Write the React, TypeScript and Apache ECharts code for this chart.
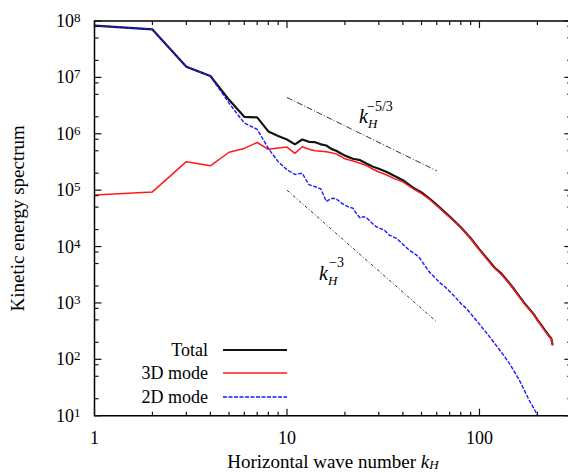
import React, { useEffect, useRef } from 'react';
import * as echarts from 'echarts';

const SERIF = '"Liberation Serif", "DejaVu Serif", serif';

// Wave numbers k_H for total / 3D spectra
const waveNumbers = [
  1, 2, 3, 4, 5, 6, 7, 8, 9, 10, 11, 12, 13, 14, 15, 16, 17, 18, 19, 20,
  22, 24, 26, 28, 30, 33, 36, 40, 45, 50, 55, 60, 70, 80, 90, 100,
  110, 120, 130, 140, 150, 160, 170, 180, 190, 200, 210, 220, 230, 236, 240,
];
const totalSpectrum = [
  8.3e7, 7.1e7, 1.55e7, 1.06e7, 4.0e6, 2.0e6, 1.95e6, 1.1e6, 9.1e5, 7.9e5,
  6.5e5, 7.9e5, 7.2e5, 7.1e5, 6.5e5, 6.2e5, 5.4e5, 5.0e5, 4.5e5, 4.1e5,
  3.6e5, 3.4e5, 2.95e5, 2.6e5, 2.4e5, 2.1e5, 1.8e5, 1.5e5, 1.12e5, 9.1e4,
  7.1e4, 5.5e4, 3.4e4, 2.2e4, 1.4e4, 8.9e3,
  6.0e3, 4.2e3, 3.3e3, 2.45e3, 1.82e3, 1.35e3, 1.02e3, 8.1e2, 6.5e2, 5.0e2,
  4.0e2, 3.2e2, 2.6e2, 2.35e2, 1.8e2,
];
const mode3DSpectrum = [
  8.2e4, 9.3e4, 3.2e5, 2.7e5, 4.7e5, 5.5e5, 7.0e5, 5.3e5, 5.6e5, 5.8e5,
  4.5e5, 5.9e5, 5.3e5, 5.0e5, 4.9e5, 4.8e5, 4.6e5, 4.4e5, 4.0e5, 3.6e5,
  3.3e5, 3.0e5, 2.7e5, 2.35e5, 2.1e5, 1.86e5, 1.6e5, 1.4e5, 1.07e5, 8.7e4,
  6.9e4, 5.3e4, 3.3e4, 2.15e4, 1.37e4, 8.7e3,
  5.85e3, 4.1e3, 3.2e3, 2.4e3, 1.78e3, 1.32e3, 1.0e3, 7.9e2, 6.4e2, 4.9e2,
  3.9e2, 3.1e2, 2.55e2, 2.3e2, 1.75e2,
];

// Wave numbers and values for the 2D mode spectrum
const waveNumbers2D = [
  1, 2, 3, 4, 5, 6, 7, 8, 9, 10, 11, 12, 13, 14, 15, 16, 17, 18, 19, 20,
  21, 22, 23, 24, 25, 26, 28, 29, 30, 32, 34, 37, 40, 43, 47, 49, 52, 55,
  58, 62, 66, 70, 75, 80, 85, 90, 95, 100, 113, 127, 143, 161, 181, 198, 200,
];
const mode2DSpectrum = [
  8.3e7, 7.1e7, 1.55e7, 1.05e7, 3.5e6, 1.55e6, 1.2e6, 5.5e5, 3.2e5, 2.3e5,
  1.9e5, 2.0e5, 1.25e5, 1.15e5, 1.05e5, 6.3e4, 7.1e4, 7.1e4, 6.0e4, 5.4e4,
  5.0e4, 4.8e4, 3.8e4, 3.2e4, 3.4e4, 3.2e4, 2.5e4, 2.25e4, 2.15e4, 1.95e4,
  1.6e4, 1.4e4, 1.1e4, 8.7e3, 7.1e3, 6.2e3, 4.6e3, 3.5e3,
  2.95e3, 2.3e3, 1.95e3, 1.6e3, 1.26e3, 9.8e2, 8.1e2, 6.5e2, 5.2e2, 4.2e2,
  2.5e2, 1.48e2, 85, 43, 19, 11, 10,
];

// Reference slopes (end points)
const slope53K = [10, 60];
const slope53E = [4.4e6, 2.2e5];
const slope3K = [10, 60];
const slope3E = [1.0e5, 4.6e2];

// Axes
const X_MIN = 1;
const X_MAX = 300;
const Y_MIN = 10;
const Y_MAX = 1e8;
const xMajorTicks = [1, 10, 100];
const xMinorTicks = [2, 3, 4, 5, 6, 7, 8, 9, 20, 30, 40, 50, 60, 70, 80, 90, 200, 300];
const yMajorTicks = [1e1, 1e2, 1e3, 1e4, 1e5, 1e6, 1e7, 1e8];
const yMinorTicks = [
  2e1, 5e1, 8e1, 2e2, 5e2, 8e2, 2e3, 5e3, 8e3, 2e4, 5e4, 8e4,
  2e5, 5e5, 8e5, 2e6, 5e6, 8e6, 2e7, 5e7, 8e7,
];

const legendNames = ['Total', '3D mode', '2D mode'];
const legendColors = ['#141414', '#ff1a1a', '#1a1aff'];
const legendWidths = [2.2, 1.5, 1.4];
const legendDashes: (number[] | null)[] = [null, null, [4, 1.5]];

// Layout
const CHART_W = 568;
const CHART_H = 473;
const GRID_LEFT = 94.5;
const GRID_RIGHT = -3.3;
const GRID_TOP = 21;
const GRID_BOTTOM = 57.3;

const isDecade = (v: number) => {
  const l = Math.log10(v);
  return Math.abs(l - Math.round(l)) < 1e-6;
};

export default function App() {
  const ref = useRef<HTMLDivElement>(null);

  useEffect(() => {
    if (!ref.current) return;
    const chart = echarts.init(ref.current, undefined, { renderer: 'svg' });

    const series: any[] = [
      {
        name: 'k^-5/3',
        type: 'line',
        data: slope53K.map((k, i) => [k, slope53E[i]]),
        symbol: 'none',
        silent: true,
        lineStyle: { color: '#333', width: 1, type: [6, 2, 1, 2] },
        z: 1,
      },
      {
        name: 'k^-3',
        type: 'line',
        data: slope3K.map((k, i) => [k, slope3E[i]]),
        symbol: 'none',
        silent: true,
        lineStyle: { color: '#333', width: 1, type: [3, 2, 1, 2] },
        z: 1,
      },
      {
        name: legendNames[0],
        type: 'line',
        data: waveNumbers.map((k, i) => [k, totalSpectrum[i]]),
        symbol: 'none',
        color: legendColors[0],
        lineStyle: { color: legendColors[0], width: legendWidths[0] },
        z: 2,
      },
      {
        name: legendNames[1],
        type: 'line',
        data: waveNumbers.map((k, i) => [k, mode3DSpectrum[i]]),
        symbol: 'none',
        color: legendColors[1],
        lineStyle: { color: legendColors[1], width: legendWidths[1] },
        z: 3,
      },
      {
        name: legendNames[2],
        type: 'line',
        data: waveNumbers2D.map((k, i) => [k, mode2DSpectrum[i]]),
        symbol: 'none',
        color: legendColors[2],
        lineStyle: { color: legendColors[2], width: legendWidths[2], type: legendDashes[2] },
        z: 4,
      },
    ];

    // Axis-tick decoration: positions follow the grid's log mapping
    const plotW = CHART_W - GRID_LEFT - GRID_RIGHT;
    const plotH = CHART_H - GRID_TOP - GRID_BOTTOM;
    const xPix = (k: number) => GRID_LEFT + (plotW * Math.log10(k / X_MIN)) / Math.log10(X_MAX / X_MIN);
    const yPix = (e: number) => GRID_TOP + plotH * (1 - Math.log10(e / Y_MIN) / Math.log10(Y_MAX / Y_MIN));
    const xL = xPix(X_MIN);
    const xR = xPix(X_MAX);
    const yB = yPix(Y_MIN);
    const yT = yPix(Y_MAX);

    const elems: any[] = [];
    const seg = (x1: number, y1: number, x2: number, y2: number) => ({
      type: 'line',
      z: 55,
      shape: { x1, y1, x2, y2 },
      style: { stroke: '#111', lineWidth: 1.2 },
    });
    const addXTick = (k: number, len: number) => {
      const x = xPix(k);
      elems.push(seg(x, yB, x, yB - len));
      elems.push(seg(x, yT, x, yT + len));
    };
    const addYTick = (e: number, len: number) => {
      const y = yPix(e);
      elems.push(seg(xL, y, xL + len, y));
      elems.push(seg(xR, y, xR - len, y));
    };
    xMajorTicks.forEach((k) => addXTick(k, 7));
    xMinorTicks.forEach((k) => addXTick(k, 4));
    yMajorTicks.forEach((e) => addYTick(e, 7));
    yMinorTicks.forEach((e) => addYTick(e, 4));

    // Legend (text right-aligned, sample line to its right)
    const legendY = [350, 373, 397];
    legendNames.forEach((name, i) => {
      elems.push({
        type: 'text', x: 208, y: legendY[i], z: 60,
        style: { text: name, fontFamily: SERIF, fontSize: 18, fill: '#000', align: 'right', verticalAlign: 'middle' },
      });
      const ls: any = { stroke: legendColors[i], lineWidth: legendWidths[i] };
      if (legendDashes[i]) ls.lineDash = legendDashes[i];
      elems.push({ type: 'line', z: 60, shape: { x1: 223, y1: legendY[i], x2: 287, y2: legendY[i] }, style: ls });
    });

    // Slope annotations
    const lbl = (x: number, y: number, text: string, size: number, italic: boolean) => ({
      type: 'text', x, y, z: 60,
      style: { text, fontFamily: SERIF, fontSize: size, fontStyle: italic ? 'italic' : 'normal', fill: '#000', align: 'left', verticalAlign: 'middle' },
    });
    elems.push(lbl(359, 116, 'k', 20, true));
    elems.push(lbl(368, 123, 'H', 13, true));
    elems.push(lbl(367, 106, '\u22125/3', 14, false));
    elems.push(lbl(319, 273, 'k', 20, true));
    elems.push(lbl(328, 280, 'H', 13, true));
    elems.push(lbl(329, 262, '\u22123', 14, false));

    const option: any = {
      animation: false,
      grid: {
        left: GRID_LEFT,
        right: GRID_RIGHT,
        top: GRID_TOP,
        bottom: GRID_BOTTOM,
        outerBoundsMode: 'none',
        containLabel: false,
        show: true,
        borderColor: '#000',
        borderWidth: 1.5,
        backgroundColor: 'transparent',
      },
      xAxis: {
        type: 'log',
        logBase: 10,
        min: X_MIN,
        max: X_MAX,
        splitNumber: 3,
        axisLine: { show: false },
        axisTick: { show: false },
        splitLine: { show: false },
        axisLabel: {
          margin: 13,
          color: '#000',
          fontFamily: SERIF,
          fontSize: 18,
          formatter: (v: number) => (isDecade(v) ? String(Math.round(v)) : ''),
        },
        name: '{n|Horizontal wave number }{k|k}{h|H}',
        nameLocation: 'middle',
        nameGap: 35,
        nameTextStyle: {
          color: '#000',
          fontFamily: SERIF,
          fontSize: 19,
          rich: {
            n: { fontFamily: SERIF, fontSize: 19, lineHeight: 20, color: '#000' },
            k: { fontFamily: SERIF, fontSize: 19, fontStyle: 'italic', lineHeight: 20, color: '#000' },
            h: { fontFamily: SERIF, fontSize: 13, fontStyle: 'italic', lineHeight: 13, verticalAlign: 'bottom', color: '#000' },
          },
        },
      },
      yAxis: {
        type: 'log',
        logBase: 10,
        min: Y_MIN,
        max: Y_MAX,
        splitNumber: 7,
        axisLine: { show: false },
        axisTick: { show: false },
        splitLine: { show: false },
        axisLabel: {
          margin: 14,
          formatter: (v: number) =>
            isDecade(v) ? `{b|10}{s|${Math.round(Math.log10(v))}}` : '',
          rich: {
            b: { fontFamily: SERIF, fontSize: 18, lineHeight: 20, color: '#000' },
            s: { fontFamily: SERIF, fontSize: 13, lineHeight: 13, verticalAlign: 'top', color: '#000' },
          },
        },
        name: 'Kinetic energy spectrum',
        nameLocation: 'middle',
        nameGap: 68,
        nameTextStyle: { color: '#000', fontFamily: SERIF, fontSize: 19 },
      },
      graphic: elems,
      series,
    };

    chart.setOption(option);
    return () => chart.dispose();
  }, []);

  return (
    <div
      ref={ref}
      style={{ position: 'absolute', left: 0, top: 0, width: CHART_W, height: CHART_H, background: '#fff' }}
    />
  );
}
